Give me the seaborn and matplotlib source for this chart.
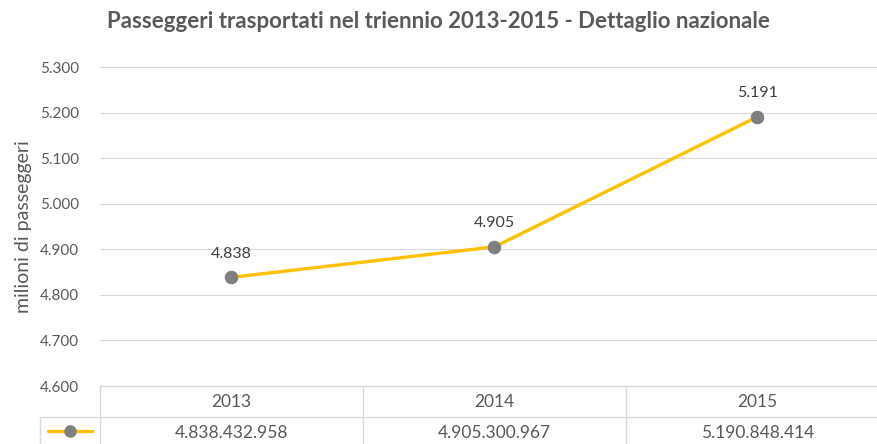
import pandas as pd
import matplotlib.pyplot as plt
import seaborn as sns
from matplotlib.lines import Line2D

# Data (passeggeri, milioni)
anni = ["2013", "2014", "2015"]
passeggeri = [4838432958, 4905300967, 5190848414]
y_ticks = [4600, 4700, 4800, 4900, 5000, 5100, 5200, 5300]

df = pd.DataFrame({"anno": anni, "milioni": [p / 1e6 for p in passeggeri]})


def fmt_it(v):
    return f"{v:,.0f}".replace(",", ".")


LINE_COL = "#FFC000"
MARK_COL = "#7F7F7F"
TEXT_COL = "#595959"
GRID_COL = "#D9D9D9"

sns.set_theme(style="white")
plt.rcParams["font.family"] = ["Lato", "DejaVu Sans"]

fig = plt.figure(figsize=(8.77, 4.44), dpi=100)
W, H = 877, 444
x0, x1 = 100, 889
y_top, y_bot = 67, 386
ax = fig.add_axes([x0 / W, (H - y_bot) / H, (x1 - x0) / W, (y_bot - y_top) / H])

sns.lineplot(data=df, x="anno", y="milioni", ax=ax, color=LINE_COL, linewidth=2.4,
             marker="o", markersize=9, markerfacecolor=MARK_COL,
             markeredgecolor=MARK_COL, sort=False)
ax.set_xlim(-0.5, 2.5)
ax.set_ylim(y_ticks[0], y_ticks[-1])
ax.set_yticks(y_ticks)
ax.set_yticklabels([fmt_it(t) for t in y_ticks], color=TEXT_COL, fontsize=11)
ax.set_xticks([])
ax.set_xlabel("")
ax.set_ylabel("milioni di passeggeri", color=TEXT_COL, fontsize=14, labelpad=6)
ax.tick_params(axis="y", length=0, pad=15)
ax.grid(axis="y", color=GRID_COL, linewidth=0.8)
for s in ax.spines.values():
    s.set_visible(False)

for i, v in enumerate(df["milioni"]):
    ax.annotate(fmt_it(v), (i, v), xytext=(0, 12), textcoords="offset points",
                ha="center", va="bottom", color="#404040", fontsize=11.5)

fig.text(0.5, 1 - 22 / H,
         "Passeggeri trasportati nel triennio 2013-2015 - Dettaglio nazionale",
         ha="center", va="center", color=TEXT_COL, fontsize=16, fontweight="bold")

# Data table below the chart
tb_bot = H + 4
tab = fig.add_axes([x0 / W, (H - tb_bot) / H, (x1 - x0) / W, (tb_bot - y_bot) / H])
tab.set_xlim(-0.5, 2.5)
tab.set_ylim(0, 2)
tab.axis("off")
leg_left = -0.5 - 60 / 263
tab.add_line(Line2D([-0.5, 2.5], [2, 2], color=GRID_COL, lw=1, clip_on=False))
tab.add_line(Line2D([leg_left, 2.5], [1, 1], color=GRID_COL, lw=1, clip_on=False))
for xv in [-0.5, 0.5, 1.5, 2.5]:
    tab.add_line(Line2D([xv, xv], [0, 2], color=GRID_COL, lw=1, clip_on=False))
tab.add_line(Line2D([leg_left, leg_left], [0, 1], color=GRID_COL, lw=1, clip_on=False))
for i, (a, p) in enumerate(zip(anni, passeggeri)):
    tab.text(i, 1.5, a, ha="center", va="center", color=TEXT_COL, fontsize=12.5)
    tab.text(i, 0.5, fmt_it(p), ha="center", va="center", color=TEXT_COL, fontsize=12.5)
mid = (leg_left - 0.5) / 2
tab.add_line(Line2D([leg_left + 0.03, -0.53], [0.55, 0.55], color=LINE_COL, lw=2.4,
                    clip_on=False))
tab.plot([mid], [0.55], "o", color=MARK_COL, markersize=8, clip_on=False)

fig.savefig("out.png", dpi=100)
